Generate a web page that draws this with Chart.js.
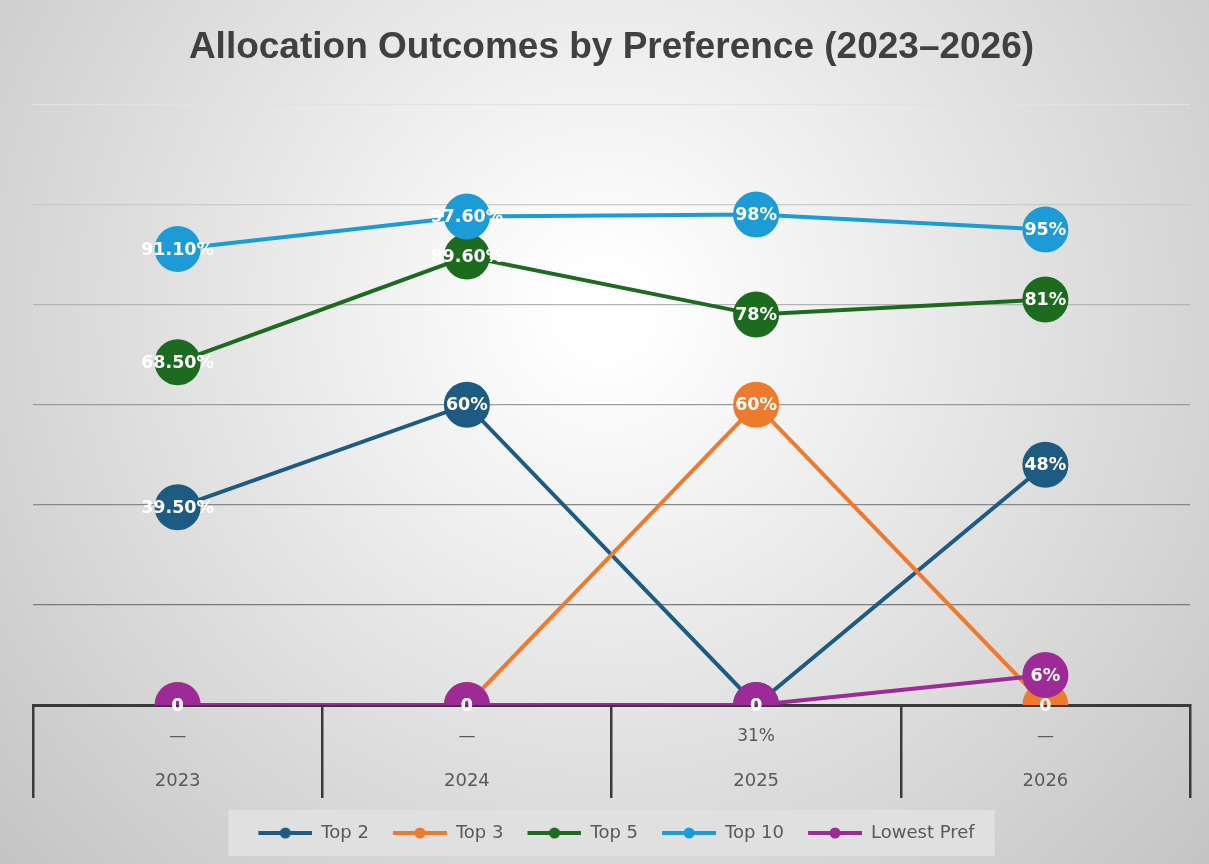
<!DOCTYPE html>
<html>
<head>
<meta charset="utf-8">
<script src="https://cdn.jsdelivr.net/npm/chart.js@4.4.1/dist/chart.umd.min.js"></script>
<style>
  html, body { margin: 0; padding: 0; background: #fff; }
</style>
</head>
<body>
<canvas id="allocChart" width="1209" height="864"></canvas>
<script>
// data
const years = ["2023", "2024", "2025", "2026"];
const seriesNames = ["Top 2", "Top 3", "Top 5", "Top 10", "Lowest Pref"];
const top2 = [39.5, 60, 0, 48];
const top3 = [0, 0, 60, 0];
const top5 = [68.5, 89.6, 78, 81];
const top10 = [91.1, 97.6, 98, 95];
const lowestPref = [0, 0, 0, 6];
const belowLabels = ["\u2014", "\u2014", "31%", "\u2014"]; // stray labels under the axis
const yMax = 120;
const yStep = 20;

const colors = ["#1d5b82", "#ee7a2e", "#1c6b1f", "#1d9bd7", "#9e2a97"];
const allSeries = [top2, top3, top5, top10, lowestPref];
// gridlines fade out towards the top
const gridShades = ["#3a3a3a", "#7a7a7a", "#888888", "#9c9c9c", "#b4b4b4", "#cacaca", "#e2e2e2"];

// "0" for zero, "60%" for whole numbers, "39.50%" otherwise
function fmtPct(v) {
  if (v === 0) return "0";
  if (Number.isInteger(v)) return v + "%";
  return v.toFixed(2) + "%";
}

// line + dot icon for the legend
function legendIcon(color) {
  const c = document.createElement("canvas");
  c.width = 64;
  c.height = 14;
  const g = c.getContext("2d");
  g.strokeStyle = color;
  g.lineWidth = 4;
  g.beginPath();
  g.moveTo(10, 7);
  g.lineTo(64, 7);
  g.stroke();
  g.fillStyle = color;
  g.beginPath();
  g.arc(37, 7, 5.5, 0, Math.PI * 2);
  g.fill();
  return c;
}
const legendIcons = colors.map(legendIcon);

const bgPlugin = {
  id: "bg",
  beforeDraw(chart) {
    const { ctx, width, height } = chart;
    ctx.save();
    const g = ctx.createRadialGradient(width * 0.5, height * 0.36, 40, width * 0.5, height * 0.36, 820);
    g.addColorStop(0, "#ffffff");
    g.addColorStop(1, "#c4c4c4");
    ctx.fillStyle = g;
    ctx.fillRect(0, 0, width, height);
    // legend background box
    const boxes = chart.legend.legendHitBoxes || [];
    if (boxes.length) {
      const left = Math.min(...boxes.map(b => b.left)) - 20;
      const right = Math.max(...boxes.map(b => b.left + b.width)) + 20;
      ctx.fillStyle = "rgba(224,224,224,0.95)";
      ctx.fillRect(left, chart.legend.top, right - left, 46);
    }
    ctx.restore();
  }
};

const labelPlugin = {
  id: "pointLabels",
  afterDatasetsDraw(chart) {
    const { ctx } = chart;
    ctx.save();
    ctx.font = "bold 17.5px 'DejaVu Sans', sans-serif";
    ctx.fillStyle = "#ffffff";
    ctx.textAlign = "center";
    ctx.textBaseline = "middle";
    chart.data.datasets.forEach((ds, i) => {
      const meta = chart.getDatasetMeta(i);
      meta.data.forEach((pt, j) => {
        ctx.fillText(fmtPct(ds.data[j]), pt.x, pt.y + 1);
      });
    });
    // labels under the baseline
    const x = chart.scales.x;
    ctx.font = "17px 'DejaVu Sans', sans-serif";
    ctx.fillStyle = "#595959";
    belowLabels.forEach((t, j) => {
      ctx.fillText(t, x.getPixelForValue(j), x.top + 32);
    });
    ctx.restore();
  }
};

const ctx = document.getElementById("allocChart").getContext("2d");

new Chart(ctx, {
  type: "line",
  data: {
    labels: years,
    datasets: allSeries.map((d, i) => ({
      label: seriesNames[i],
      data: d,
      borderColor: colors[i],
      backgroundColor: colors[i],
      borderWidth: 4,
      pointRadius: 21,
      pointHoverRadius: 21,
      pointBorderColor: colors[i],
      pointBackgroundColor: colors[i],
      tension: 0,
      fill: false,
      order: allSeries.length - i // later series drawn on top
    }))
  },
  options: {
    responsive: false,
    animation: false,
    events: [],
    layout: { autoPadding: false, padding: { left: 33, right: 19, top: 0, bottom: 12 } },
    plugins: {
      title: {
        display: true,
        text: "Allocation Outcomes by Preference (2023\u20132026)",
        color: "#404040",
        font: { family: "'Liberation Sans', Arial, sans-serif", size: 37, weight: "bold" },
        padding: { top: 26, bottom: 34 }
      },
      legend: {
        position: "bottom",
        labels: {
          color: "#595959",
          font: { family: "'DejaVu Sans', sans-serif", size: 18 },
          usePointStyle: true,
          pointStyleWidth: 64,
          padding: 14,
          generateLabels(chart) {
            const items = Chart.defaults.plugins.legend.labels.generateLabels(chart);
            items.forEach(it => { it.pointStyle = legendIcons[it.datasetIndex]; });
            return items.sort((a, b) => a.datasetIndex - b.datasetIndex);
          }
        }
      },
      tooltip: { enabled: false }
    },
    scales: {
      y: {
        min: 0,
        max: yMax,
        ticks: { display: false, stepSize: yStep },
        border: { display: false },
        grid: {
          drawTicks: false,
          color: (c) => gridShades[c.index] || "#b0b0b0",
          lineWidth: 1.3
        }
      },
      x: {
        offset: true,
        border: { color: "#3a3a3a", width: 3 },
        grid: {
          offset: true,
          drawOnChartArea: false,
          tickLength: 93,
          color: "#3a3a3a",
          lineWidth: 2.5
        },
        ticks: {
          color: "#595959",
          font: { family: "'DejaVu Sans', sans-serif", size: 18 },
          padding: -27
        },
        afterFit(scale) { scale.height = 105; }
      }
    }
  },
  plugins: [bgPlugin, labelPlugin]
});
</script>
</body>
</html>
